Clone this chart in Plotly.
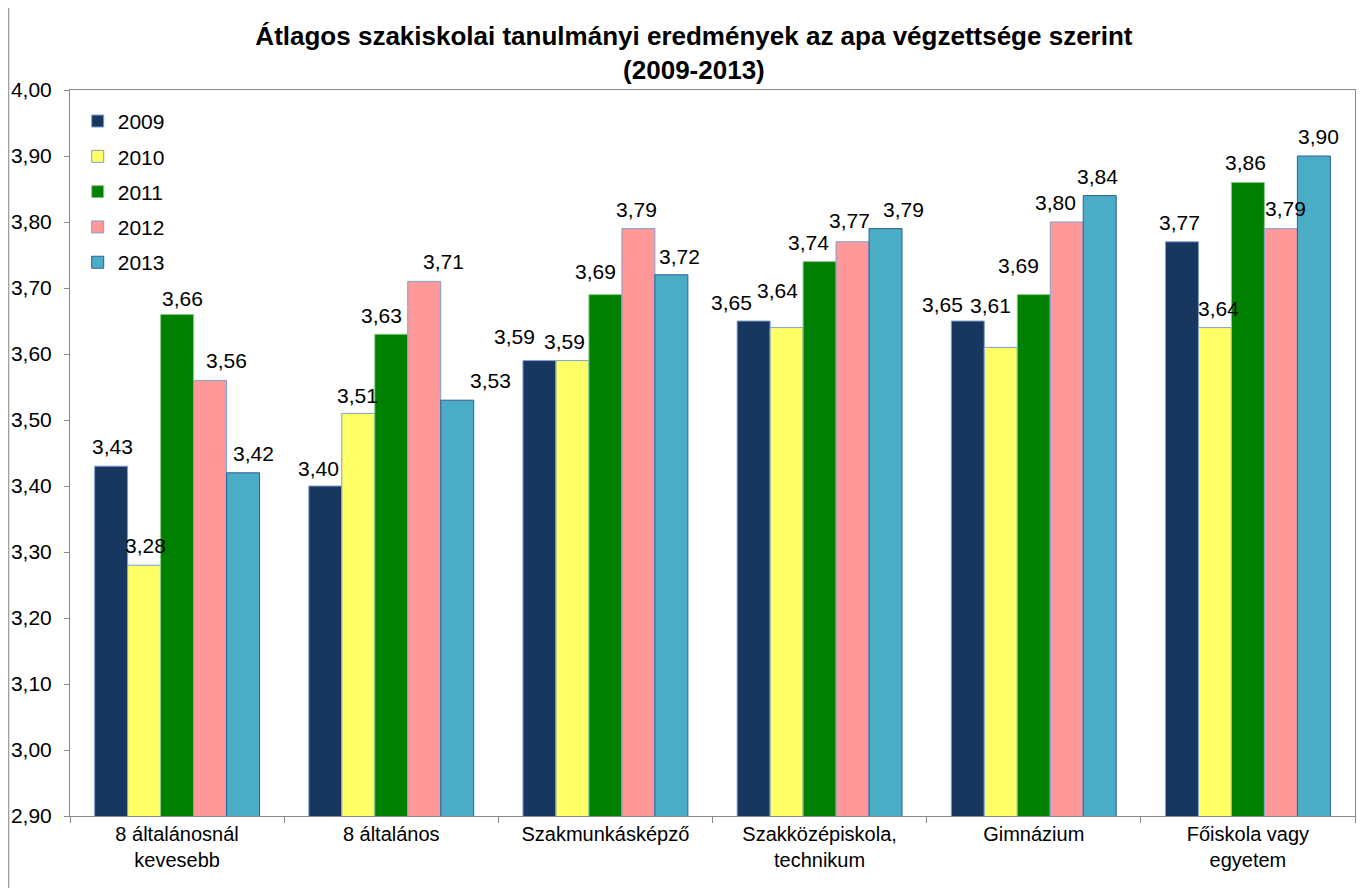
import plotly.graph_objects as go

categories = ["8 általánosnál<br>kevesebb", "8 általános", "Szakmunkásképző",
              "Szakközépiskola,<br>technikum", "Gimnázium", "Főiskola vagy<br>egyetem"]
years = ["2009", "2010", "2011", "2012", "2013"]
v2009 = [3.43, 3.40, 3.59, 3.65, 3.65, 3.77]
v2010 = [3.28, 3.51, 3.59, 3.64, 3.61, 3.64]
v2011 = [3.66, 3.63, 3.69, 3.74, 3.69, 3.86]
v2012 = [3.56, 3.71, 3.79, 3.77, 3.80, 3.79]
v2013 = [3.42, 3.53, 3.72, 3.79, 3.84, 3.90]
series = [v2009, v2010, v2011, v2012, v2013]
colors = ["#17375E", "#FFFF66", "#008000", "#FF9999", "#4BACC6"]
outlines = ["#7F9FD0", "#7F9FD0", "#8CCB8C", "#7F9FD0", "#2D5F96"]

# manual label nudges (px) as in the original chart, [category][series]
label_dx = [
    [1, 1, 5, 16, 10],
    [-7, -1, -10, 19, 33],
    [-25, -8, -10, -2, 8],
    [-22, -9, -11, -3, 18],
    [-25, -10, -15, -11, -2],
    [-2, 4, -2, 5, 5],
]
label_dy = [
    [0, 0, -4, 0, 0],
    [-2, -2, -1, 0, 0],
    [5, 0, 4, 0, -1],
    [-1, 18, 0, 2, 0],
    [-3, 22, 10, 0, 0],
    [0, 0, 0, 1, 0],
]

FONT = "Liberation Sans, Arial, sans-serif"
W, H = 1361, 880
ML, MR, MT, MB = 62, 14, 82, 72
BARGAP = 0.23

fig = go.Figure()
for y, vals, c, lc in zip(years, series, colors, outlines):
    fig.add_trace(go.Bar(
        name=y, x=categories, y=vals, legendgroup=y,
        marker=dict(color=c, line=dict(color=lc, width=1)),
    ))

# data labels
plot_w = W - ML - MR
bar_px = plot_w / len(categories) * (1 - BARGAP) / len(series)
for si, vals in enumerate(series):
    for ci, v in enumerate(vals):
        fig.add_annotation(
            x=categories[ci], y=v, xref="x", yref="y",
            text=f"{v:.2f}".replace(".", ","), showarrow=False,
            xanchor="center", yanchor="bottom",
            xshift=(si - (len(series) - 1) / 2) * bar_px + label_dx[ci][si],
            yshift=6 + label_dy[ci][si],
            font=dict(family=FONT, size=21, color="black"),
        )

fig.update_layout(
    width=W, height=H,
    margin=dict(l=ML, r=MR, t=MT, b=MB, autoexpand=False),
    paper_bgcolor="white", plot_bgcolor="white",
    barmode="group", bargap=BARGAP, bargroupgap=0,
    separators=", ",
    font=dict(family=FONT, size=20, color="black"),
    title=dict(text="<b>Átlagos szakiskolai tanulmányi eredmények az apa végzettsége szerint<br>(2009-2013)</b>",
               x=0.504, xanchor="center", y=0.958, yanchor="top",
               font=dict(size=26, color="black")),
    legend=dict(x=0.006, y=0.985, xanchor="left", yanchor="top", bgcolor="rgba(0,0,0,0)",
                font=dict(size=21), tracegroupgap=5, traceorder="grouped",
                itemwidth=30),
    showlegend=True,
)
fig.update_yaxes(range=[2.9, 4.0], dtick=0.1, tickformat=".2f", showgrid=False,
                 showline=True, linecolor="#888888", linewidth=1, mirror=True,
                 ticks="outside", ticklen=5, tickcolor="#888888", zeroline=False,
                 tickfont=dict(size=21), ticklabelstandoff=8)
fig.update_xaxes(showgrid=False, showline=True, linecolor="#888888", linewidth=1, mirror=True,
                 ticks="outside", ticklen=6, tickcolor="#888888", tickson="boundaries",
                 tickfont=dict(size=20))
fig.add_shape(type="rect", xref="paper", yref="paper", x0=-0.0478, x1=1.0141, y0=-0.1072, y1=1.117,
              line=dict(color="#A0A0A0", width=1.5), fillcolor="rgba(0,0,0,0)", layer="below")
fig.write_html("out.html")
